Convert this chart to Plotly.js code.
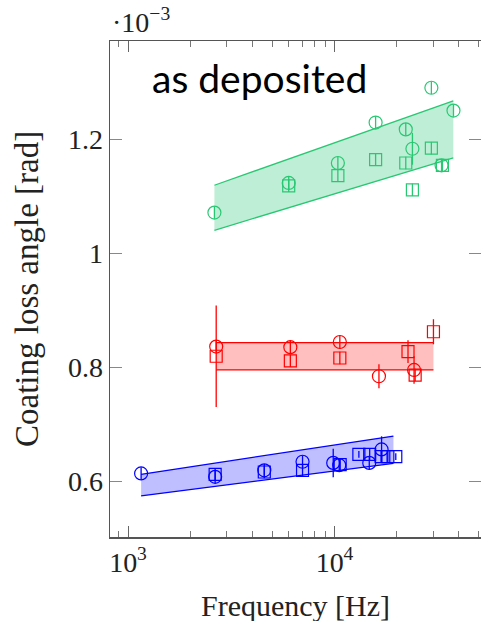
<!DOCTYPE html>
<html><head><meta charset="utf-8">
<script src="https://cdn.plot.ly/plotly-3.0.1.min.js"></script>
<style>html,body{margin:0;padding:0;background:#fff;overflow:hidden}#plot{width:481px;height:621px}</style>
</head><body><div id="plot"></div>
<script>
// ---- data (loss angle in units of 1e-3 rad, frequency in Hz) ----
// green
const greenBandF = [2620, 37600];
const greenBandLow = [1.040, 1.167];
const greenBandHigh = [1.119, 1.267];
const greenCircF = [2620, 6000, 10380, 15810, 22130, 23830, 29440, 37670, 32970];
const greenCircY = [1.071, 1.123, 1.158, 1.229, 1.217, 1.183, 1.290, 1.250, 1.154];
const greenCircE = [0.011, 0.011, 0.011, 0.011, 0.011, 0.028, 0.011, 0.011, 0.011];
const greenSqF = [6000, 10380, 15810, 22130, 23830, 29440, 33300];
const greenSqY = [1.118, 1.136, 1.164, 1.158, 1.111, 1.184, 1.154];
const greenSqE = [0.011, 0.011, 0.011, 0.011, 0.011, 0.011, 0.011];

// red
const redBandF = [2673, 30130];
const redBandLow = [0.795, 0.795];
const redBandHigh = [0.843, 0.843];
const redCircF = [2673, 6110, 10610, 16410, 24270];
const redCircY = [0.836, 0.835, 0.844, 0.784, 0.795];
const redCircE = [0.011, 0.012, 0.012, 0.021, 0.024];
const redSqF = [2673, 6110, 10610, 22690, 24570, 30130];
const redSqY = [0.819, 0.811, 0.816, 0.827, 0.786, 0.862];
const redSqE = [0.089, 0.011, 0.011, 0.020, 0.011, 0.022];

// blue
const blueBandF = [1157, 19280];
const blueBandLow = [0.574, 0.631];
const blueBandHigh = [0.612, 0.679];
const blueCircF = [1157, 2642, 4570, 7000, 9855, 10540, 14730, 16900];
const blueCircY = [0.6135, 0.6075, 0.619, 0.634, 0.632, 0.628, 0.632, 0.6556];
const blueCircE = [0.011, 0.011, 0.011, 0.011, 0.025, 0.011, 0.011, 0.023];
const blueSqF = [2642, 4570, 7000, 10650, 13120, 14800, 16800, 18120, 19800];
const blueSqY = [0.612, 0.616, 0.619, 0.629, 0.647, 0.647, 0.643, 0.643, 0.643];
const blueSqE = [0.011, 0.011, 0.011, 0.011, 0.006, 0.011, 0.011, 0.011, 0.006];

const xMajor = [1000, 10000];
const xMajorText = ['10<sup>3</sup>', '10<sup>4</sup>'];
const yTicks = [0.6, 0.8, 1, 1.2];
const yTickText = ['0.6', '0.8', '1', '1.2'];

// ---- build ----
function band(f, lo, hi, line, fill) {
  return [
    {x: f, y: lo, mode: 'lines', line: {color: line, width: 1.3}, hoverinfo: 'skip', showlegend: false},
    {x: f, y: hi, mode: 'lines', fill: 'tonexty', fillcolor: fill, line: {color: line, width: 1.3}, hoverinfo: 'skip', showlegend: false}
  ];
}
function pts(f, y, e, color, sym, size) {
  return {x: f, y: y, mode: 'markers', showlegend: false,
    marker: {symbol: sym, size: size, color: color, line: {color: color, width: 1.2}},
    error_y: {type: 'data', array: e, visible: true, color: color, thickness: 1.3, width: 0}};
}
const G = 'rgb(40,200,115)', R = 'rgb(255,0,0)', B = 'rgb(0,0,255)';
const traces = [].concat(
  band(greenBandF, greenBandLow, greenBandHigh, G, 'rgba(40,200,115,0.3)'),
  band(redBandF, redBandLow, redBandHigh, R, 'rgba(255,0,0,0.25)'),
  band(blueBandF, blueBandLow, blueBandHigh, B, 'rgba(0,0,255,0.25)'),
  [pts(greenCircF, greenCircY, greenCircE, G, 'circle-open', 13),
   pts(greenSqF, greenSqY, greenSqE, G, 'square-open', 12),
   pts(redCircF, redCircY, redCircE, R, 'circle-open', 13),
   pts(redSqF, redSqY, redSqE, R, 'square-open', 12),
   pts(blueCircF, blueCircY, blueCircE, B, 'circle-open', 13),
   pts(blueSqF, blueSqY, blueSqE, B, 'square-open', 12),
   // empty helper trace so the top (mirrored minor-tick) axis is drawn
   {x: xMajor, y: [null, null], xaxis: 'x2', yaxis: 'y', mode: 'markers', showlegend: false, hoverinfo: 'skip'}]
);

const minorVals = [];
[100, 1000, 10000].forEach(d => { for (let k = 2; k <= 9; k++) minorVals.push(k * d); });

const serif = 'Liberation Serif';
const xr = [Math.log10(818), Math.log10(51200)];
const layout = {
  width: 481, height: 621,
  margin: {l: 110, r: 0, t: 41, b: 84},
  paper_bgcolor: '#fff', plot_bgcolor: '#fff',
  font: {family: serif, size: 28, color: '#222'},
  xaxis: {
    type: 'log', range: xr,
    tickmode: 'array', tickvals: xMajor, ticktext: xMajorText,
    ticks: 'inside', ticklen: 11, tickwidth: 1, tickcolor: '#666',
    showline: true, linecolor: '#555', linewidth: 1.5, mirror: 'ticks',
    showgrid: false, zeroline: false,
    tickfont: {family: serif, size: 28, color: '#222'},
    minor: {tickmode: 'array', tickvals: minorVals, ticks: 'inside', ticklen: 6, tickcolor: '#777', tickwidth: 1, showgrid: false}
  },
  xaxis2: {
    type: 'log', range: xr, overlaying: 'x', side: 'top', anchor: 'y',
    tickmode: 'array', tickvals: minorVals, ticks: 'inside', ticklen: 6, tickcolor: '#777', tickwidth: 1,
    showticklabels: false, showline: false, showgrid: false, zeroline: false
  },
  yaxis: {
    range: [0.502, 1.372],
    tickmode: 'array', tickvals: yTicks, ticktext: yTickText,
    ticks: 'inside', ticklen: 12, tickwidth: 1, tickcolor: '#888',
    showline: true, linecolor: '#555', linewidth: 1.5, mirror: 'ticks',
    showgrid: false, zeroline: false,
    tickfont: {family: serif, size: 28, color: '#222'}
  },
  annotations: [
    {xref: 'paper', yref: 'paper', x: 0.5, y: 0, xanchor: 'center', yanchor: 'middle', yshift: -68,
     text: 'Frequency [Hz]', showarrow: false, font: {family: serif, size: 30, color: '#222'}},
    {xref: 'paper', yref: 'paper', x: 0, y: 0.5, xanchor: 'center', yanchor: 'middle', xshift: -83,
     text: 'Coating loss angle [rad]', textangle: -90, showarrow: false, font: {family: serif, size: 33, color: '#222'}},
    {xref: 'paper', yref: 'paper', x: 0, y: 1, xanchor: 'left', yanchor: 'bottom', xshift: 0, yshift: 1,
     text: '·10<sup>−3</sup>', showarrow: false, font: {family: serif, size: 28, color: '#222'}},
    {xref: 'paper', yref: 'paper', x: 0.108, y: 1, xanchor: 'left', yanchor: 'top', yshift: -12,
     text: 'as deposited', showarrow: false, font: {family: 'Lato', size: 39, color: '#000'}}
  ]
};
Plotly.newPlot('plot', traces, layout, {staticPlot: true, displayModeBar: false});
</script></body></html>
